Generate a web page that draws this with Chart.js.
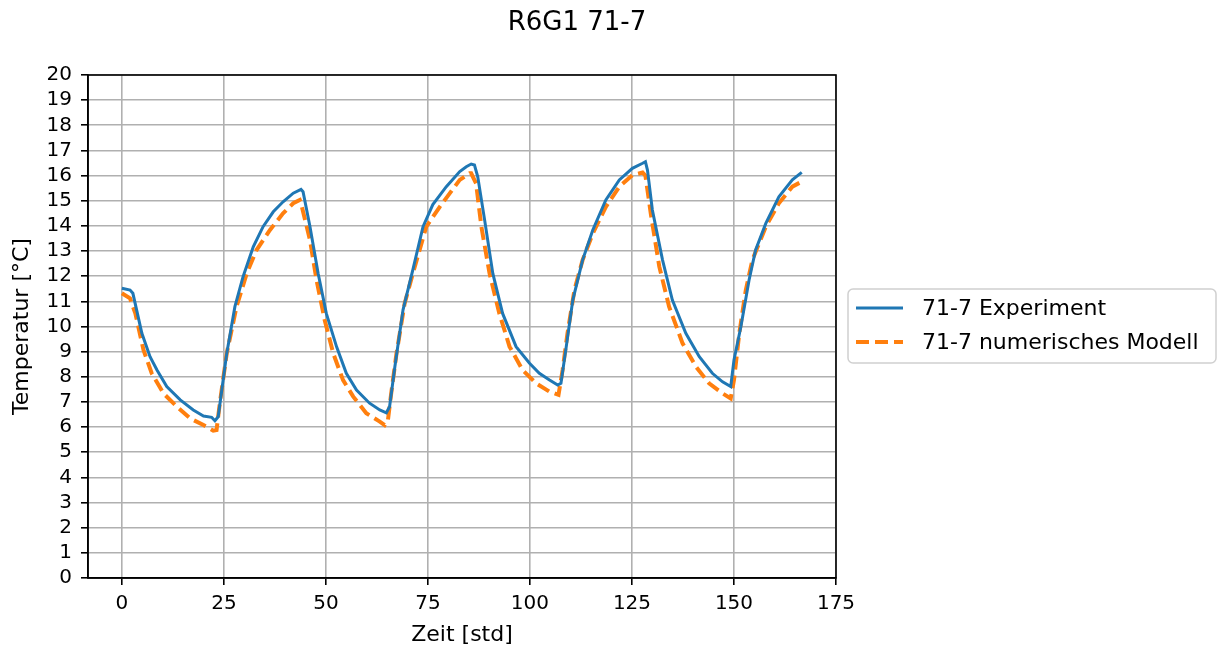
<!DOCTYPE html>
<html>
<head>
<meta charset="utf-8">
<script src="https://cdn.jsdelivr.net/npm/chart.js@4.4.0/dist/chart.umd.min.js"></script>
<style>
  body { margin: 0; background: #fff; }
  canvas { display: block; }
</style>
</head>
<body>
<canvas id="chart" width="1222" height="648"></canvas>
<script>
// title and legend labels
var chartTitle = 'R6G1 71-7';
var expLabel = '71-7 Experiment';
var modelLabel = '71-7 numerisches Modell';

// measured curve (time in hours, temperature in °C)
var expTime = [0, 2.0, 2.7, 4.9, 6.9, 8.6, 11.0, 14.3, 17.5, 20.0, 22.0, 22.8, 23.6,
  25.7, 27.7, 29.7, 32.2, 34.6, 37.1, 39.5, 42.0, 43.9, 44.4,
  46.1, 48.1, 50.1, 52.6, 55.0, 57.5, 60.7, 63.2, 64.8, 65.6,
  66.9, 68.9, 71.3, 73.8, 76.2, 79.5, 82.8, 84.4, 85.6, 86.4,
  87.2, 88.9, 90.9, 93.3, 96.6, 99.9, 102.3, 104.8, 106.8, 107.6,
  108.9, 110.5, 112.9, 115.4, 118.6, 121.9, 125.1, 127.6, 128.3, 128.8,
  130.0, 132.5, 134.9, 138.2, 141.5, 144.7, 147.2, 149.2, 150.0,
  151.7, 153.7, 155.3, 157.8, 161.0, 164.3, 166.6];
var expTemp = [11.52, 11.45, 11.32, 9.73, 8.8, 8.27, 7.61, 7.08, 6.68, 6.44, 6.39, 6.25, 6.41,
  8.93, 10.79, 11.98, 13.17, 13.97, 14.56, 14.96, 15.3, 15.45, 15.36,
  13.97, 12.11, 10.52, 9.2, 8.14, 7.47, 6.95, 6.68, 6.57, 6.81,
  8.4, 10.66, 12.25, 13.97, 14.85, 15.56, 16.16, 16.35, 16.46, 16.42,
  15.96, 14.23, 12.11, 10.52, 9.2, 8.54, 8.14, 7.87, 7.67, 7.74,
  9.2, 11.05, 12.64, 13.84, 15.03, 15.83, 16.29, 16.49, 16.55, 16.22,
  14.63, 12.64, 11.05, 9.73, 8.8, 8.14, 7.8, 7.61, 8.67,
  10.0, 11.85, 13.04, 14.1, 15.16, 15.83, 16.13];

// numerical model curve
var modelTime = [0, 2.0, 3.3, 5.3, 7.3, 10.2, 13.5, 16.7, 20.0, 22.4, 23.2, 24.0,
  25.7, 28.1, 30.6, 33.0, 36.3, 39.5, 42.0, 43.6, 43.9,
  46.1, 47.7, 49.7, 51.8, 54.2, 56.7, 59.9, 63.2, 64.4, 65.2, 66.0,
  67.3, 69.3, 71.3, 74.6, 77.9, 82.8, 85.2, 85.6,
  86.8, 88.1, 90.1, 92.5, 95.0, 98.2, 101.5, 104.8, 107.0, 108.0,
  109.2, 110.9, 112.9, 115.4, 118.6, 121.9, 125.1, 127.6, 128.3,
  129.6, 131.7, 134.1, 137.4, 140.7, 143.9, 147.2, 149.2, 150.0,
  151.3, 152.9, 154.5, 157.8, 161.0, 164.3, 166.6];
var modelTemp = [11.32, 11.12, 10.52, 9.07, 8.14, 7.34, 6.81, 6.35, 6.08, 5.86, 5.88, 6.95,
  8.93, 10.79, 12.11, 13.04, 13.84, 14.5, 14.9, 15.03, 14.9,
  13.44, 11.85, 10.26, 8.93, 7.87, 7.21, 6.55, 6.22, 6.08, 6.28, 7.34,
  8.93, 10.92, 12.11, 13.97, 14.76, 15.83, 16.09, 16.09,
  15.69, 13.97, 12.11, 10.52, 9.2, 8.27, 7.74, 7.41, 7.28, 8.27,
  9.73, 11.45, 12.64, 13.7, 14.76, 15.56, 16.02, 16.12, 16.0,
  14.5, 12.38, 10.79, 9.33, 8.4, 7.74, 7.34, 7.14, 7.87,
  9.73, 11.45, 12.64, 13.97, 14.9, 15.56, 15.76];

// axis ticks
var xTicks = [0, 25, 50, 75, 100, 125, 150, 175];
var yTicks = [0, 1, 2, 3, 4, 5, 6, 7, 8, 9, 10, 11, 12, 13, 14, 15, 16, 17, 18, 19, 20];

var FONT = 'DejaVu Sans';

function toPoints(xs, ys) {
  return xs.map(function (x, i) { return {x: x, y: ys[i]}; });
}

// title, frame and legend drawn by hand to match the original layout
var extras = {
  id: 'extras',
  afterDraw: function (chart) {
    var ctx = chart.ctx;
    var a = chart.chartArea;
    ctx.save();
    ctx.strokeStyle = '#000';
    ctx.lineWidth = 1.6;
    ctx.strokeRect(a.left, a.top, a.right - a.left, a.bottom - a.top);

    ctx.fillStyle = '#000';
    ctx.font = '26px "' + FONT + '"';
    ctx.textAlign = 'center';
    ctx.textBaseline = 'middle';
    ctx.fillText(chartTitle, 577, 23);

    // legend box
    var lx = 848, ly = 289, lw = 368, lh = 74, r = 5;
    ctx.beginPath();
    ctx.moveTo(lx + r, ly);
    ctx.arcTo(lx + lw, ly, lx + lw, ly + lh, r);
    ctx.arcTo(lx + lw, ly + lh, lx, ly + lh, r);
    ctx.arcTo(lx, ly + lh, lx, ly, r);
    ctx.arcTo(lx, ly, lx + lw, ly, r);
    ctx.closePath();
    ctx.fillStyle = '#fff';
    ctx.fill();
    ctx.strokeStyle = '#d0d0d0';
    ctx.lineWidth = 1.5;
    ctx.stroke();

    var rows = [308, 342];
    chart.data.datasets.forEach(function (ds, i) {
      ctx.beginPath();
      ctx.strokeStyle = ds.borderColor;
      ctx.lineWidth = ds.borderWidth;
      ctx.setLineDash(ds.borderDash || []);
      ctx.moveTo(856, rows[i]);
      ctx.lineTo(903, rows[i]);
      ctx.stroke();
      ctx.setLineDash([]);
      ctx.fillStyle = '#000';
      ctx.font = '22px "' + FONT + '"';
      ctx.textAlign = 'left';
      ctx.textBaseline = 'middle';
      ctx.fillText(ds.label, 922, rows[i] + 1);
    });
    ctx.restore();
  }
};

var ctx = document.getElementById('chart').getContext('2d');
new Chart(ctx, {
  type: 'line',
  data: {
    datasets: [
      {
        label: expLabel,
        data: toPoints(expTime, expTemp),
        borderColor: '#1f77b4',
        borderWidth: 3,
        pointRadius: 0,
        tension: 0,
        fill: false
      },
      {
        label: modelLabel,
        data: toPoints(modelTime, modelTemp),
        borderColor: '#ff7f0e',
        borderWidth: 4,
        borderDash: [13, 6],
        pointRadius: 0,
        tension: 0,
        fill: false
      }
    ]
  },
  options: {
    responsive: false,
    animation: false,
    layout: { padding: { left: 0, right: 386, top: 75, bottom: 0 } },
    plugins: {
      legend: { display: false },
      title: { display: false },
      tooltip: { enabled: false }
    },
    scales: {
      x: {
        type: 'linear',
        min: -8.3,
        max: 175,
        afterFit: function (s) { s.height = 70; },
        afterBuildTicks: function (s) { s.ticks = xTicks.map(function (v) { return {value: v}; }); },
        grid: { color: '#b0b0b0', lineWidth: 1.6, tickColor: '#000', tickLength: 7, tickWidth: 1.6 },
        border: { color: '#000', width: 1.6 },
        ticks: { color: '#000', font: { family: FONT, size: 20 }, padding: 7, maxRotation: 0 },
        title: { display: true, text: 'Zeit [std]', color: '#000', font: { family: FONT, size: 22 }, padding: { top: 0, bottom: 0 } }
      },
      y: {
        type: 'linear',
        min: 0,
        max: 20,
        afterFit: function (s) { s.width = 88; },
        afterBuildTicks: function (s) { s.ticks = yTicks.map(function (v) { return {value: v}; }); },
        grid: { color: '#b0b0b0', lineWidth: 1.6, tickColor: '#000', tickLength: 7, tickWidth: 1.6 },
        border: { color: '#000', width: 1.6 },
        ticks: { color: '#000', font: { family: FONT, size: 20 }, padding: 9, autoSkip: false },
        title: { display: true, text: 'Temperatur [°C]', color: '#000', font: { family: FONT, size: 22 }, padding: { top: 9, bottom: 0 } }
      }
    }
  },
  plugins: [extras]
});
</script>
</body>
</html>
